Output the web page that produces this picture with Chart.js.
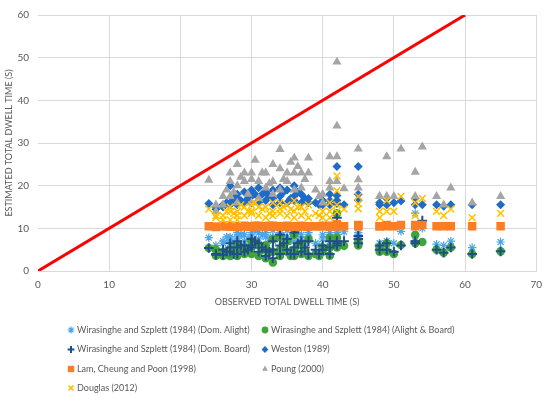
<!DOCTYPE html>
<html>
<head>
<meta charset="utf-8">
<script src="https://cdn.jsdelivr.net/npm/chart.js@4"></script>
<style>
  body { margin: 0; background: #fff; }
  #wrap { width: 550px; height: 395px; }
</style>
</head>
<body>
<div id="wrap"><canvas id="dwellChart" width="550" height="395"></canvas></div>
<script>
// observed dwell time (s), one entry per observation
const obsX = [24,25,25,26,26,27,27,27,28,28,28,29,29,30,30,30,31,31,32,32,33,33,33,34,34,34,35,35,36,36,36,37,37,38,38,39,40,40,41,41,41,42,42,42,42,43,45,45,45,48,48,49,49,50,51,53,53,54,56,57,58,61,65,
    26.5,27.5,29.5,31.5,32.5,34.5,35.5,37.5,39.5,30.5,28.5,36.5];

// estimated dwell time (s) per model
const domAlight = [7.8,6,5,7,6.5, 8,7.5,6.5,9,7, 8,8.5,7,8,7, 9,9,7.5,9,8, 9.5,8,7,9,7.5, 8.5,9.5,8,9.5,8.5, 7,8.5,7.5,9,8, 6.5,7.5,8.5,9,8, 7,9,8,7,8.5, 9.2,8,9,8.5,6.5, 5.5,7,5,6.5,9.3, 13.5,7,10,6.3,6, 7,5.5,6.8,
    8,6,7.5,8.5,7.5,8,7,6.5,6,9.5,8.5,9];
const alightBoard = [5.4,3.6,5,4.5,3.5, 5,3.5,4.5,6,3.5, 5,5.5,4,7,4, 5.5,6,3.5,6,3, 7.5,2,4.5,8,5, 3.5,7,4.5,8.5,5, 3.5,6.5,4,7.5,3.5, 4,4.5,5.5,7.8,5.5, 3.6,13.5,7.8,5.5,6, 5.9,6.3,7,6,4.5, 5.5,6.5,4.5,4,6.1, 8.5,6.5,6.8,5,4.3, 5.5,4,4.6,
    4,4,4.5,5,4.5,6,3.5,5,3.5,6.5,5.5,6];
const domBoard = [5.4,4,3.8,5,3.8, 6.5,4.5,5.5,7,4, 5.5,6,4.5,7.5,5.5, 6,6.5,4.5,5,3.5, 7,3,5,8.5,6, 4,7.5,5,9,5.5, 4,7,4.5,7,4, 5,5,6,7,5.5, 4,12.5,7,6,6.5, 7,8.2,7.5,6.5,5, 6,6.5,5,4.5,6, 7,6.5,11.8,5,4.3, 5.5,4,4.6,
    4.5,4,5,5.5,4.5,6.5,4,5.5,4,7,6,6.5];
const weston = [15.8,15,14.5,15,15.5, 20,15.5,16,18,15.5, 17,18.5,16,19,16, 17.5,19.5,16,18.5,16.5, 19,15.5,17,19.5,16, 17.5,19,16,20,16.5, 17.5,18,16,17,16, 16,16.5,15.5,18,16.5, 15.5,24.5,17.7,15.8,16.5, 15.5,24.5,16.6,18,16, 15.5,17,15.5,16,16.4, 17,15.5,15.5,15.5,15.2, 15.5,15.5,15.5,
    16,17,17,18,17.5,18.5,17,17,15.5,18,16.5,18.5];
const lamCheungPoon = [10.5,10.4,10.3,10.5,10.6, 10.5,10.4,10.6,10.5,10.5, 10.3,10.5,10.6,10.5,10.4, 10.5,10.5,10.6,10.5,10.4, 10.5,10.6,10.5,10.5,10.4, 10.5,10.5,10.6,10.5,10.4, 10.5,10.5,10.6,10.5,10.4, 10.5,10.5,10.6,10.5,10.4, 10.6,11,10.5,10.5,10.6, 10.5,10.8,10.5,10.6,10.5, 10.5,10.8,10.5,10.5,10.8, 10.5,10.8,10.8,10.5,10.5, 10.5,10.5,10.5,
    10.5,10.5,10.4,10.5,10.6,10.5,10.5,10.4,10.5,10.6,10.5,10.5];
const poung = [21.3,15.5,14,17.5,15.5, 23,21,17.5,25,20, 16,23,21,23,21.5, 16,21,17,23,19.5, 25,21,18,28.5,24, 19,23,21,26.5,23, 19,23,19.5,26.5,23, 19,18,16,26.8,21, 19.5,49,34,26.8,21, 19.3,28.6,21.4,19.5,17.5, 17.5,26.8,17.5,17.5,28.6, 23.2,17.5,29.1,17.5,15.5, 19.5,16,17.5,
    19,18.5,18,23,20.5,21.5,25.5,21.5,17.5,26,22,24.5];
const douglas = [14.5,12.5,13,13,12, 14,12,15,14,12, 13,15,13,15.5,13.5, 14,15,13,15,12.5, 16,13,14,16,13.5, 14.5,15.5,13,16.5,14, 12.5,15,13,15.5,12.5, 13.5,14,12.5,16,14, 12.5,22.3,18.8,13.9,15.5, 14.5,17.5,14.6,15.8,14, 12.5,16.5,14,14,17.5, 16,13,17,14,13, 14.5,12.5,13.5,
    14,13.5,14,14.5,13.5,15,14.5,14,13,16,15.5,15];

// line of equality
const lineX = [0, 60];
const lineY = [0, 60];

const seriesNames = [
    'Wirasinghe and Szplett (1984) (Dom. Alight)',
    'Wirasinghe and Szplett (1984) (Alight & Board)',
    'Wirasinghe and Szplett (1984) (Dom. Board)',
    'Weston (1989)',
    'Lam, Cheung and Poon (1998)',
    'Poung (2000)',
    'Douglas (2012)'
];
const seriesValues = [domAlight, alightBoard, domBoard, weston, lamCheungPoon, poung, douglas];

const textColor = '#595959';
const fontFamily = 'Lato, "Liberation Sans", sans-serif';

const styles = [
    { pointStyle: 'star', color: '#4aa6e6', radius: 4.2, width: 1.2 },
    { pointStyle: 'circle', color: '#3fa535', radius: 4.3, width: 0 },
    { pointStyle: 'cross', color: '#1f4e8c', radius: 4.8, width: 2 },
    { pointStyle: 'rectRot', color: '#1f6bc9', radius: 4.5, width: 0 },
    { pointStyle: 'rect', color: '#fb7d24', radius: 6, width: 0 },
    { pointStyle: 'triangle', color: '#a5a5a5', radius: 5.3, width: 0 },
    { pointStyle: 'crossRot', color: '#ffc000', radius: 4.8, width: 1.5 }
];

const toPoints = ys => obsX.map((x, i) => ({ x, y: ys[i] }));

const datasets = seriesValues.map((vals, i) => ({
    label: seriesNames[i],
    data: toPoints(vals),
    pointStyle: styles[i].pointStyle,
    pointRadius: styles[i].radius,
    pointBorderWidth: styles[i].width,
    pointBackgroundColor: styles[i].color,
    pointBorderColor: styles[i].color,
    showLine: false,
    order: 7 - i
}));

datasets.push({
    label: 'Equality',
    data: lineX.map((x, i) => ({ x, y: lineY[i] })),
    showLine: true,
    borderColor: '#ff0000',
    borderWidth: 3,
    pointRadius: 0,
    order: 0
});

// legend laid out in two columns under the axis title
const gridLegend = {
    id: 'gridLegend',
    afterDraw(chart) {
        const ctx = chart.ctx;
        const cols = [71, 265];
        const rows = [330, 349.5, 369, 388];
        ctx.save();
        ctx.font = '9px ' + fontFamily;
        ctx.textBaseline = 'middle';
        seriesNames.forEach((name, i) => {
            const mx = cols[i % 2];
            const my = rows[Math.floor(i / 2)];
            const st = styles[i];
            ctx.fillStyle = st.color;
            ctx.strokeStyle = st.color;
            ctx.lineWidth = st.width;
            Chart.helpers.drawPoint(ctx, {
                pointStyle: st.pointStyle,
                radius: st.pointStyle === 'rect' ? 4.5 : 3.4,
                borderWidth: st.width,
                rotation: 0
            }, mx, my);
            ctx.fillStyle = textColor;
            ctx.fillText(name, mx + 6, my);
        });
        ctx.restore();
    }
};

new Chart(document.getElementById('dwellChart'), {
    type: 'scatter',
    data: { datasets },
    options: {
        responsive: false,
        animation: false,
        layout: { padding: { top: 7, right: 8, bottom: 88, left: 0 } },
        plugins: {
            legend: { display: false },
            tooltip: { enabled: false }
        },
        scales: {
            x: {
                min: 0,
                max: 70,
                ticks: { stepSize: 10, color: textColor, padding: 8, font: { size: 10, family: fontFamily } },
                grid: {
                    color: c => c.tick && c.tick.value === 0 ? 'rgba(0,0,0,0)' : '#d9d9d9',
                    drawTicks: false
                },
                border: { display: true, color: '#d9d9d9' },
                title: {
                    display: true,
                    text: 'OBSERVED TOTAL DWELL TIME (S)',
                    color: textColor,
                    padding: 0,
                    font: { size: 9, family: fontFamily }
                },
                afterFit: s => { s.height = 36; }
            },
            y: {
                min: 0,
                max: 60,
                ticks: { stepSize: 10, color: textColor, padding: 9, font: { size: 10, family: fontFamily } },
                grid: { color: '#d9d9d9', drawTicks: false },
                border: { display: false },
                title: {
                    display: true,
                    text: 'ESTIMATED TOTAL DWELL TIME (S)',
                    color: textColor,
                    padding: { top: 4, bottom: 0 },
                    font: { size: 9, family: fontFamily }
                },
                afterFit: s => { s.width = 38; }
            }
        }
    },
    plugins: [gridLegend]
});
</script>
</body>
</html>
